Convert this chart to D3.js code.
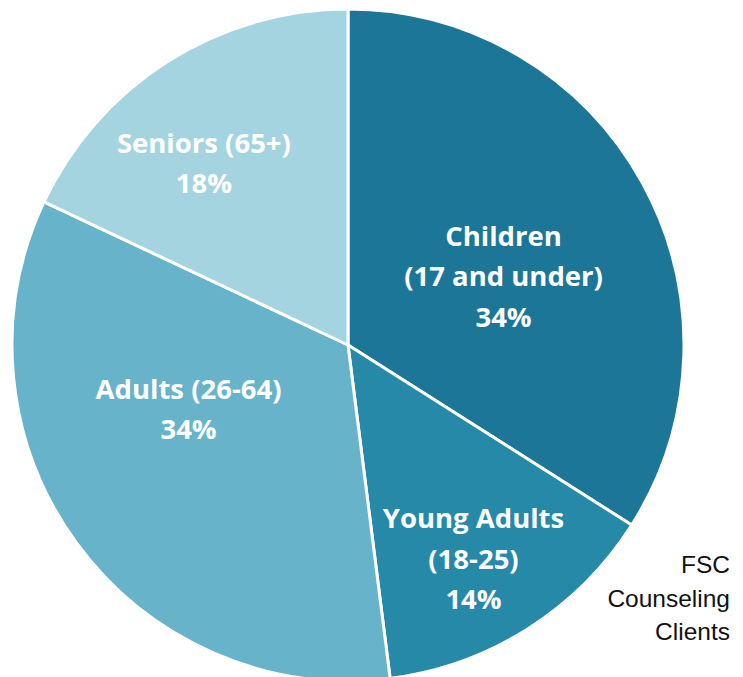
<!DOCTYPE html>
<html><head><meta charset="utf-8">
<script src="https://cdn.jsdelivr.net/npm/d3@7"></script>
<style>html,body{margin:0;padding:0;background:#fff;overflow:hidden}</style>
</head><body>
<svg id="chart" width="743" height="677"></svg>
<script>
const categories = ["Children", "Young Adults", "Adults", "Seniors"];
const labelLines = [["Children","(17 and under)"],["Young Adults","(18-25)"],["Adults (26-64)"],["Seniors (65+)"]];
const values = [34, 14, 34, 18];
const colors = ["#1c7697", "#2689a7", "#67b4ca", "#a5d4e1"];
// label placement (radius in px, angle shift in degrees)
const labelR = [170, 248, 172, 232];
const labelShift = [5, 2, 14, -6];

const svg = d3.select("#chart");
const cx = 348, cy = 345, R = 336;
const g = svg.append("g").attr("transform", `translate(${cx},${cy})`);
const pie = d3.pie().sort(null).value(d => d.v);
const data = pie(values.map((v,i)=>({v, i})));
const arc = d3.arc().innerRadius(0).outerRadius(R);
g.selectAll("path.slice").data(data).join("path")
  .attr("class","slice")
  .attr("d", arc)
  .attr("fill", d => colors[d.data.i])
  .attr("stroke", "#fff").attr("stroke-width", 3).attr("stroke-linejoin","round");

const fontFam = "'Open Sans', Lato, sans-serif";
data.forEach(d => {
  const i = d.data.i;
  const a = (d.startAngle + d.endAngle)/2 + labelShift[i]*Math.PI/180;
  const x = Math.sin(a)*labelR[i], y = -Math.cos(a)*labelR[i];
  const lines = labelLines[i].concat([values[i] + "%"]);
  const lh = 40.5;
  const t = g.append("text")
    .attr("text-anchor","middle")
    .attr("font-family", fontFam).attr("font-weight", 700)
    .attr("font-size", 27.5).attr("fill", "#fff");
  lines.forEach((ln, k) => {
    t.append("tspan").attr("x", x)
      .attr("y", y + (k - (lines.length-1)/2)*lh)
      .attr("dy", "0.35em").text(ln);
  });
});

const title = ["FSC", "Counseling", "Clients"];
const tt = svg.append("text").attr("text-anchor","end")
  .attr("font-family","'Liberation Sans', Arial, sans-serif")
  .attr("font-size", 24.5).attr("fill","#111");
title.forEach((ln,k)=>{
  tt.append("tspan").attr("x", 730).attr("y", 573 + k*33.5).text(ln);
});
</script>
</body></html>
